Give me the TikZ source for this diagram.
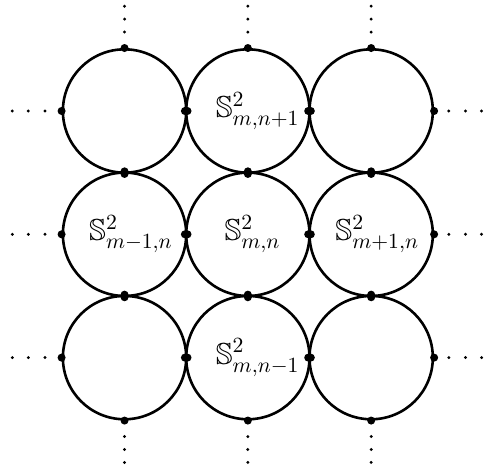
\documentclass[tikz,border=0pt]{standalone}
\usepackage{amssymb}
\begin{document}
\begin{tikzpicture}[
  ring/.style={circle, draw, line width=1.2pt, minimum size=2cm, inner sep=0pt},
  lab/.style={inner sep=0pt, font=\fontsize{14}{17}\selectfont},
  bigdot/.style={fill=black},
  smalldot/.style={fill=black}
]
\useasboundingbox (-4.02,-3.78) rectangle (3.83,3.80);
\node[ring] (c11) at (-2, 2) {};
\node[ring] (c12) at ( 0, 2) {};
\node[ring] (c13) at ( 2, 2) {};
\node[ring] (c21) at (-2, 0) {};
\node[ring] (c22) at ( 0, 0) {};
\node[ring] (c23) at ( 2, 0) {};
\node[ring] (c31) at (-2,-2) {};
\node[ring] (c32) at ( 0,-2) {};
\node[ring] (c33) at ( 2,-2) {};
\node[lab, xshift=0.16cm] (l12) at (c12) {$\mathbb{S}^2_{m,n+1}$};
\node[lab, xshift=0.105cm] (l21) at (c21) {$\mathbb{S}^2_{m-1,n}$};
\node[lab, xshift=0.076cm] (l22) at (c22) {$\mathbb{S}^2_{m,n}$};
\node[lab, xshift=0.10cm] (l23) at (c23) {$\mathbb{S}^2_{m+1,n}$};
\node[lab, xshift=0.16cm] (l32) at (c32) {$\mathbb{S}^2_{m,n-1}$};
\foreach \n in {c11,c12,c13,c21,c22,c23,c31,c32,c33}{
  \foreach \a in {north,south,east,west}{
    \fill[bigdot] (\n.\a) circle (1.85pt);
  }
}
% vertical dots
\foreach \x in {-2,0,2}{
  \foreach \y in {3.28,3.49,3.70}{
    \fill[smalldot] (\x,\y) circle (0.75pt);
    \fill[smalldot] (\x,-\y) circle (0.75pt);
  }
}
% horizontal dots
\foreach \y in {-2,0,2}{
  \foreach \x in {3.26,3.53,3.79}{
    \fill[smalldot] (\x,\y) circle (0.75pt);
    \fill[smalldot] (-\x-0.03,\y) circle (0.75pt);
  }
}
\end{tikzpicture}
\end{document}
